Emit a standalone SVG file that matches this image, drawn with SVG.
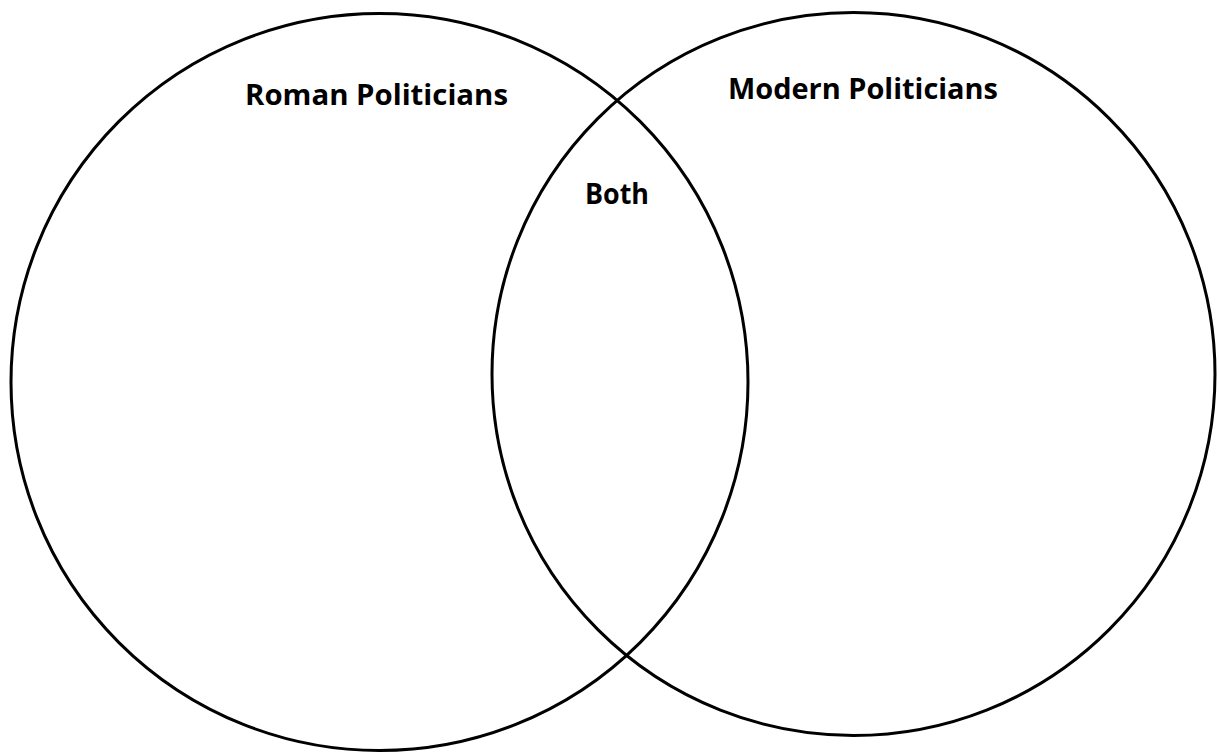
<svg xmlns="http://www.w3.org/2000/svg" width="1219" height="753" viewBox="0 0 1219 753">
<style>
.c{fill:none;stroke:#000;stroke-width:3}
.t{font-family:"Open Sans",Lato,sans-serif;font-weight:bold;font-size:28px;fill:#000;font-variant-ligatures:none}
</style>
<rect width="1219" height="753" fill="#fff"/>
<g id="roman">
<circle class="c" cx="379.5" cy="382" r="368.5"/>
<text class="t" x="245" y="105" textLength="263" lengthAdjust="spacingAndGlyphs">Roman Politicians</text>
</g>
<g id="modern">
<circle class="c" cx="853.5" cy="374" r="361.5"/>
<text class="t" x="728" y="99" textLength="270" lengthAdjust="spacingAndGlyphs">Modern Politicians</text>
</g>
<g id="both">
<text class="t" x="585" y="204" textLength="64" lengthAdjust="spacingAndGlyphs">Both</text>
</g>
<g id="connectors"></g>
</svg>
